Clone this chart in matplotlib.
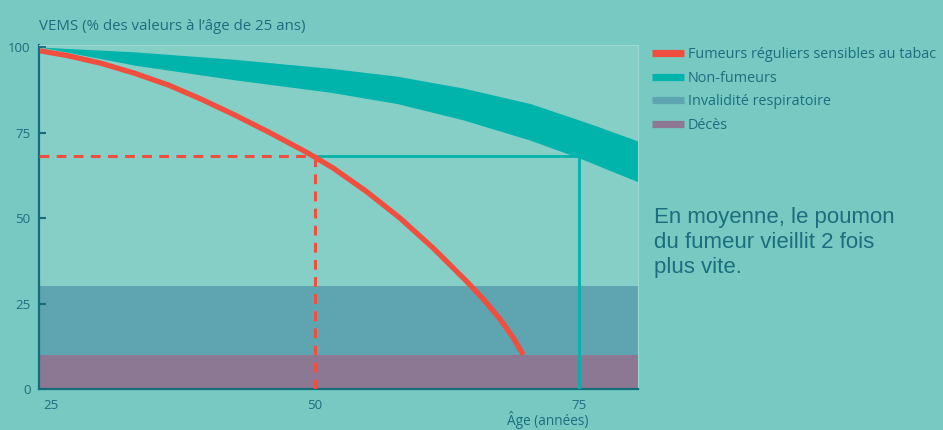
import matplotlib

matplotlib.use("Agg")

import matplotlib.pyplot as plt
from matplotlib.lines import Line2D

# ------------------ data ------------------

# Red curve: regular smokers sensitive to tobacco
smoker_age = [23.96, 26.64, 29.80, 32.95, 36.11, 39.27, 42.42, 45.57, 48.74,
              50.00, 51.73, 54.90, 58.05, 61.20, 64.36, 65.94, 67.52, 68.78, 69.73]
smoker_fev = [98.9, 97.45, 95.2, 92.3, 88.9, 84.7, 80.1, 75.2, 70.0,
              67.8, 64.6, 57.7, 50.0, 41.2, 31.5, 26.3, 20.5, 15.0, 10.0]

# Teal band: non-smokers (upper / lower edge)
nonsmoker_age = [23.96, 32.95, 42.42, 51.42, 57.74, 64.04, 70.36, 75.09, 76.68, 80.6]
nonsmoker_top = [100.0, 98.6, 96.4, 93.8, 91.5, 88.0, 83.5, 78.6, 76.9, 72.5]
nonsmoker_low = [100.0, 94.7, 90.4, 86.8, 83.5, 78.7, 72.8, 67.5, 65.5, 60.6]

# Reference level and ages
ref_level = 68
smoker_ref_age = 50
nonsmoker_ref_age = 75

# Horizontal zones
invalid_zone = (10, 30)
death_zone = (0, 10)

x_ticks = [25, 50, 75]
y_ticks = [0, 25, 50, 75, 100]

legend_labels = [
    "Fumeurs réguliers sensibles au tabac",
    "Non-fumeurs",
    "Invalidité respiratoire",
    "Décès",
]

# ------------------ colours ------------------
bg = "#76CAC2"
panel = "#85CFC7"
teal = "#00B4AB"
red = "#F04E3E"
invalid_col = "#5EA5B1"
death_col = "#8D7893"
text_col = "#1C6E7D"
spine_col = "#176C7A"

plt.rcParams["font.family"] = ["Open Sans", "DejaVu Sans"]

fig = plt.figure(figsize=(9.43, 4.30), dpi=100, facecolor=bg)
W, H = 943, 430
ax = fig.add_axes([39 / W, (H - 389) / H, (638 - 39) / W, (389 - 45) / H])
ax.set_facecolor(panel)

ax.set_xlim(23.86, 80.6)
ax.set_ylim(0, 100.6)

# zones
ax.axhspan(*invalid_zone, color=invalid_col, lw=0, zorder=1)
ax.axhspan(*death_zone, color=death_col, lw=0, zorder=1)

# non-smokers band
ax.fill_between(nonsmoker_age, nonsmoker_low, nonsmoker_top,
                color=teal, lw=0, zorder=2)

# reference lines
ax.plot([smoker_ref_age, nonsmoker_ref_age], [ref_level, ref_level],
        color=teal, lw=2, zorder=3)
ax.plot([nonsmoker_ref_age, nonsmoker_ref_age], [0, ref_level],
        color=teal, lw=2, zorder=3)
ax.plot([23.86, smoker_ref_age], [ref_level, ref_level],
        color=red, lw=2.2, dashes=(3.2, 2.4), zorder=4)
ax.plot([smoker_ref_age, smoker_ref_age], [0, ref_level],
        color=red, lw=2.2, dashes=(3.2, 2.4), zorder=4)

# smokers curve
ax.plot(smoker_age, smoker_fev, color=red, lw=3.8,
        solid_capstyle="butt", solid_joinstyle="round", zorder=5)

# axes styling
for side in ["left", "bottom"]:
    ax.spines[side].set_color(spine_col)
    ax.spines[side].set_linewidth(1.6)
for side in ["top", "right"]:
    ax.spines[side].set_color("#9BD9D1")
    ax.spines[side].set_linewidth(0.8)

ax.set_xticks(x_ticks)
ax.set_yticks(y_ticks)
ax.tick_params(axis="y", direction="in", length=5, width=1.5,
               color=spine_col, labelcolor=text_col, labelsize=9.5, pad=6)
ax.tick_params(axis="x", length=0, labelcolor=text_col, labelsize=9.5, pad=7)

fig.text(39 / W, 1 - 27 / H, "VEMS (% des valeurs à l’âge de 25 ans)",
         color=text_col, fontsize=10.8, ha="left", va="center")
fig.text(548 / W, 1 - 420 / H, "Âge (années)",
         color=text_col, fontsize=9.8, ha="center", va="center")

# legend
handles = [
    Line2D([], [], color=red, lw=5.2, solid_capstyle="butt"),
    Line2D([], [], color=teal, lw=5.2, solid_capstyle="butt"),
    Line2D([], [], color=invalid_col, lw=5.2, solid_capstyle="butt"),
    Line2D([], [], color=death_col, lw=5.2, solid_capstyle="butt"),
]
leg = fig.legend(handles, legend_labels, loc="upper left",
                 bbox_to_anchor=(652 / W, 1 - 47 / H), frameon=False,
                 fontsize=10.4, handlelength=2.2, handletextpad=0.3,
                 labelspacing=0.6, borderaxespad=0, borderpad=0)
for t in leg.get_texts():
    t.set_color(text_col)

fig.text(654 / W, 1 - 243 / H,
         "En moyenne, le poumon\ndu fumeur vieillit 2 fois\nplus vite.",
         color=text_col, fontsize=16, ha="left", va="center",
         linespacing=1.25, family=["Liberation Sans", "DejaVu Sans"])

fig.savefig("out.png", dpi=100, facecolor=bg)
